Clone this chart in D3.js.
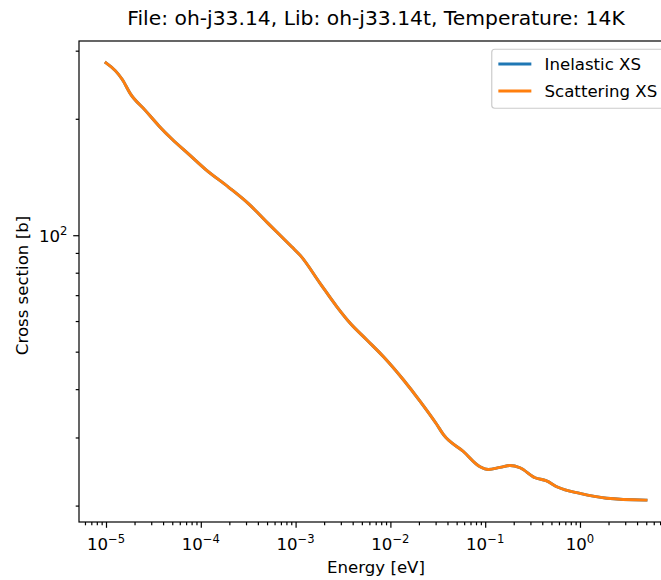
<!DOCTYPE html>
<html>
<head>
<meta charset="utf-8">
<script src="https://cdn.jsdelivr.net/npm/d3@7"></script>
<style>
  html, body { margin: 0; padding: 0; background: #fff; overflow: hidden; }
  svg { display: block; }
  text { font-family: "DejaVu Sans", sans-serif; fill: #000; }
</style>
</head>
<body>
<svg id="chart" width="661" height="580"></svg>
<script>
// ---- data ----
const energy = [1.0e-5, 1.26e-5, 1.48e-5, 1.81e-5, 2.61e-5, 3.6e-5, 4.99e-5, 7.45e-5, 1.12e-4, 1.97e-4,
  3.2e-4, 5.19e-4, 9.16e-4, 1.12e-3, 1.82e-3, 2.73e-3, 3.77e-3, 5.65e-3, 8.46e-3, 1.37e-2,
  2.06e-2, 3.09e-2, 3.63e-2, 5.89e-2, 8.83e-2, 0.108, 0.1435, 0.183, 0.233, 0.336,
  0.438, 0.586, 1.0, 1.91, 4.97];
const scatteringXS = [279, 266, 253, 232, 210, 192, 177, 162, 148, 133,
  120.5, 107, 93.2, 88.7, 75, 65.3, 59.2, 53.6, 48.5, 42.3,
  37.2, 32.4, 30.5, 27.6, 25.2, 24.8, 25.1, 25.4, 25.05, 23.6,
  23.2, 22.3, 21.5, 20.9, 20.66];
const inelasticXS = [279, 266, 253, 232, 210, 192, 177, 162, 148, 133,
  120.5, 107, 93.2, 88.7, 75, 65.3, 59.2, 53.6, 48.5, 42.3,
  37.2, 32.4, 30.5, 27.6, 25.2, 24.8, 25.1, 25.4, 25.05, 23.6,
  23.2, 22.3, 21.5, 20.9, 20.66];
const seriesNames = ["Inelastic XS", "Scattering XS"];
const seriesColors = ["#1f77b4", "#ff7f0e"];
const xMajorTicks = [1e-5, 1e-4, 1e-3, 1e-2, 1e-1, 1];
const xTickExps = ["\u22125", "\u22124", "\u22123", "\u22122", "\u22121", "0"];
const yMajorTicks = [100];
const yTickExps = ["2"];
const titleText = "File: oh-j33.14, Lib: oh-j33.14t, Temperature: 14K";
const xLabel = "Energy [eV]";
const yLabel = "Cross section [b]";

// ---- layout ----
const box = { left: 79, right: 673, top: 41, bottom: 522 };
const fs = 16.6;
const majorLen = 5.8, minorLen = 3.3, tickPad = 5.8;

const svg = d3.select("#chart");

function paddedLogDomain(vals) {
  const l = vals.map(Math.log10);
  const [a, b] = d3.extent(l);
  const p = 0.05 * (b - a);
  return [Math.pow(10, a - p), Math.pow(10, b + p)];
}
const x = d3.scaleLog().domain(paddedLogDomain(energy)).range([box.left, box.right]);
const y = d3.scaleLog().domain(paddedLogDomain(scatteringXS.concat(inelasticXS))).range([box.bottom, box.top]);

const isPow10 = v => Math.abs(Math.log10(v) - Math.round(Math.log10(v))) < 1e-9;
const xMinor = x.ticks().filter(v => !isPow10(v));
const yMinor = y.ticks().filter(v => !isPow10(v));

// ---- lines ----
const line = d3.line().x((d, i) => x(energy[i])).y(d => y(d)).curve(d3.curveMonotoneX);
const plot = svg.append("g");
[inelasticXS, scatteringXS].forEach((s, k) => {
  plot.append("path").datum(s).attr("d", line)
    .attr("fill", "none").attr("stroke", seriesColors[k])
    .attr("stroke-width", 2.9).attr("stroke-linejoin", "round").attr("stroke-linecap", "square");
});

// ---- axes ----
function styleAxis(g) {
  g.select(".domain").remove();
  g.selectAll("line").attr("stroke", "#000").attr("stroke-width", 1.2);
  g.selectAll("text").remove();
}
svg.append("g").attr("transform", `translate(0,${box.bottom})`)
  .call(d3.axisBottom(x).tickValues(xMajorTicks).tickSize(majorLen).tickFormat("")).call(styleAxis);
svg.append("g").attr("transform", `translate(0,${box.bottom})`)
  .call(d3.axisBottom(x).tickValues(xMinor).tickSize(minorLen).tickFormat("")).call(styleAxis);
svg.append("g").attr("transform", `translate(${box.left},0)`)
  .call(d3.axisLeft(y).tickValues(yMajorTicks).tickSize(majorLen).tickFormat("")).call(styleAxis);
svg.append("g").attr("transform", `translate(${box.left},0)`)
  .call(d3.axisLeft(y).tickValues(yMinor).tickSize(minorLen).tickFormat("")).call(styleAxis);

// spines
svg.append("rect").attr("x", box.left).attr("y", box.top)
  .attr("width", box.right - box.left).attr("height", box.bottom - box.top)
  .attr("fill", "none").attr("stroke", "#000").attr("stroke-width", 1.2);

// x tick labels
xMajorTicks.forEach((v, i) => {
  const t = svg.append("text").attr("x", x(v)).attr("y", 549.5)
    .attr("text-anchor", "middle").style("font-size", fs + "px");
  t.append("tspan").text("10");
  t.append("tspan").attr("dy", -6.8).style("font-size", (fs * 0.7) + "px").text(xTickExps[i]);
});
// y tick labels
yMajorTicks.forEach((v, i) => {
  const t = svg.append("text").attr("x", box.left - majorLen - tickPad).attr("y", y(v) + 6.5)
    .attr("text-anchor", "end").style("font-size", fs + "px");
  t.append("tspan").text("10");
  t.append("tspan").attr("dy", -6.8).style("font-size", (fs * 0.7) + "px").text(yTickExps[i]);
});

// axis labels
svg.append("text").attr("x", (box.left + box.right) / 2).attr("y", 573)
  .attr("text-anchor", "middle").style("font-size", fs + "px").text(xLabel);
svg.append("text").attr("transform", `translate(27.5,${(box.top + box.bottom) / 2 + 4}) rotate(-90)`)
  .attr("text-anchor", "middle").style("font-size", fs + "px").text(yLabel);

// title
svg.append("text").attr("x", (box.left + box.right) / 2).attr("y", 24.5)
  .attr("text-anchor", "middle").style("font-size", "20.3px").text(titleText);

// legend
const lg = svg.append("g");
const lgLeft = box.right - 8.25 - 173, lgTop = box.top + 8.25;
lg.append("rect").attr("x", lgLeft).attr("y", lgTop).attr("width", 173).attr("height", 59)
  .attr("rx", 3).attr("fill", "#fff").attr("fill-opacity", 0.8)
  .attr("stroke", "#cccccc").attr("stroke-width", 1.2);
seriesNames.forEach((n, i) => {
  const cy = 64 + i * 27;
  lg.append("line").attr("x1", lgLeft + 6.6).attr("x2", lgLeft + 6.6 + 33)
    .attr("y1", cy).attr("y2", cy).attr("stroke", seriesColors[i]).attr("stroke-width", 2.9);
  lg.append("text").attr("x", lgLeft + 6.6 + 33 + 13.2).attr("y", cy + 6)
    .style("font-size", fs + "px").text(n);
});
</script>
</body>
</html>
